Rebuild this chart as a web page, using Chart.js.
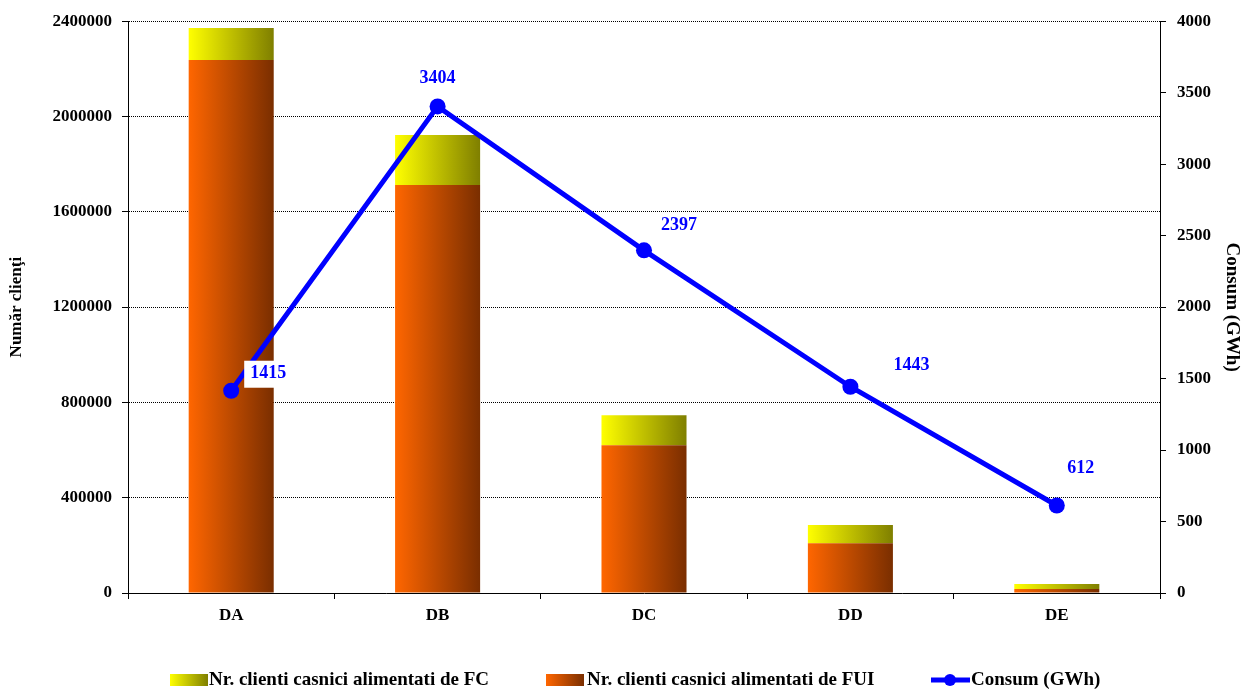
<!DOCTYPE html>
<html><head><meta charset="utf-8">
<script src="https://cdn.jsdelivr.net/npm/chart.js@4/dist/chart.umd.min.js"></script>
<style>html,body{margin:0;padding:0;background:#fff}#wrap{width:1243px;height:691px}</style>
</head><body><div id="wrap"><canvas id="c" width="1243" height="691"></canvas></div>
<script>
const categories = ['DA','DB','DC','DD','DE'];
const clientiFUI = [2237000, 1713000, 620000, 209000, 17000];
const clientiFC = [134000, 209000, 126000, 76000, 21000];
const consum = [1415, 3404, 2397, 1443, 612];
const leftTicks = [0, 400000, 800000, 1200000, 1600000, 2000000, 2400000];
const rightTicks = [0, 500, 1000, 1500, 2000, 2500, 3000, 3500, 4000];
const seriesNames = ['Nr. clienti casnici alimentati de FC', 'Nr. clienti casnici alimentati de FUI', 'Consum (GWh)'];

const labelOffsets = [[37,-17],[0,-28],[35,-25],[61,-21],[24,-37]];
const FONT = '"Liberation Serif", "Times New Roman", serif';
const BAR_PCT = 0.412;

function gradFor(c0, c1) {
  return (ctx) => {
    const chart = ctx.chart;
    const xs = chart.scales && chart.scales.x;
    if (!xs || ctx.type !== 'data') return c0;
    const cx = xs.getPixelForValue(ctx.dataIndex);
    const w = (xs.width / categories.length) * BAR_PCT;
    if (!isFinite(cx) || !isFinite(w) || w <= 0) return c0;
    const g = chart.ctx.createLinearGradient(cx - w/2, 0, cx + w/2, 0);
    g.addColorStop(0, c0); g.addColorStop(1, c1);
    return g;
  };
}

const extras = {
  id: 'extras',
  afterDatasetsDraw(chart) {
    const ctx = chart.ctx;
    const meta = chart.getDatasetMeta(2);
    ctx.save();
    ctx.font = 'bold 18px ' + FONT;
    ctx.textAlign = 'center';
    ctx.textBaseline = 'middle';
    meta.data.forEach((pt, i) => {
      const x = pt.x + labelOffsets[i][0], y = pt.y + labelOffsets[i][1];
      const txt = String(consum[i]);
      if (i === 0) {
        const w = ctx.measureText(txt).width + 12;
        ctx.fillStyle = '#fff';
        ctx.fillRect(x - w/2, y - 13, w, 27);
      }
      ctx.fillStyle = '#0000FF';
      ctx.fillText(txt, x, y);
    });
    ctx.restore();
  },
  afterDraw(chart) {
    const ctx = chart.ctx;
    ctx.save();
    const y = 680;
    ctx.font = 'bold 19px ' + FONT;
    ctx.textBaseline = 'middle';
    ctx.textAlign = 'left';
    let g = ctx.createLinearGradient(170, 0, 208, 0);
    g.addColorStop(0, '#FFFF00'); g.addColorStop(1, '#7F7F00');
    ctx.fillStyle = g; ctx.fillRect(170, y - 6, 38, 12);
    ctx.fillStyle = '#000'; ctx.fillText(seriesNames[0], 209, y);
    g = ctx.createLinearGradient(546, 0, 584, 0);
    g.addColorStop(0, '#FF6600'); g.addColorStop(1, '#7A2E00');
    ctx.fillStyle = g; ctx.fillRect(546, y - 6, 38, 12);
    ctx.fillStyle = '#000'; ctx.fillText(seriesNames[1], 587, y);
    ctx.strokeStyle = '#0000FF'; ctx.lineWidth = 5;
    ctx.beginPath(); ctx.moveTo(931, y); ctx.lineTo(970, y); ctx.stroke();
    ctx.fillStyle = '#0000FF';
    ctx.beginPath(); ctx.arc(950, y, 6, 0, Math.PI*2); ctx.fill();
    ctx.fillStyle = '#000'; ctx.fillText(seriesNames[2], 971, y);
    ctx.restore();
  }
};

const tickFont = { family: FONT, size: 17, weight: 'bold' };
const plain = (v) => String(v);

new Chart(document.getElementById('c'), {
  data: {
    labels: categories,
    datasets: [
      { type: 'bar', label: seriesNames[1], data: clientiFUI, yAxisID: 'y', order: 1,
        backgroundColor: gradFor('#FF6600', '#7A2E00'), barPercentage: BAR_PCT, categoryPercentage: 1 },
      { type: 'bar', label: seriesNames[0], data: clientiFC, yAxisID: 'y', order: 1,
        backgroundColor: gradFor('#FFFF00', '#7F7F00'), barPercentage: BAR_PCT, categoryPercentage: 1 },
      { type: 'line', label: seriesNames[2], data: consum, yAxisID: 'y1', order: 0,
        borderColor: '#0000FF', backgroundColor: '#0000FF', borderWidth: 5,
        pointRadius: 8, pointBackgroundColor: '#0000FF', pointBorderWidth: 0, tension: 0 }
    ]
  },
  options: {
    responsive: false, animation: false,
    layout: { padding: { left: 0, right: 0, top: 20, bottom: 58 } },
    plugins: { legend: { display: false }, tooltip: { enabled: false } },
    scales: {
      x: {
        stacked: true, offset: true,
        afterFit(s) { s.height = 40; },
        grid: { display: true, drawOnChartArea: false, offset: true, color: '#000', tickLength: 6 },
        border: { display: true, color: '#000', width: 1 },
        ticks: { color: '#000', font: tickFont, padding: 6 }
      },
      y: {
        position: 'left', stacked: true, min: 0, max: 2400000,
        afterBuildTicks(s) { s.ticks = leftTicks.map(v => ({ value: v })); },
        afterFit(s) { s.width = 128; },
        grid: { color: (c) => (c.tick && c.tick.value === 0) ? 'rgba(0,0,0,0)' : '#000', lineWidth: 1,
                tickLength: 6, tickColor: '#000', tickBorderDash: [] },
        border: { display: true, color: '#000', width: 1, dash: [1, 1] },
        ticks: { color: '#000', font: tickFont, padding: 10, callback: plain },
        title: { display: true, text: 'Număr clienţi', color: '#000', font: { family: FONT, size: 17, weight: 'bold' }, padding: { top: 6, bottom: 0 } }
      },
      y1: {
        position: 'right', min: 0, max: 4000,
        afterBuildTicks(s) { s.ticks = rightTicks.map(v => ({ value: v })); },
        afterFit(s) { s.width = 83; },
        grid: { drawOnChartArea: false, color: '#000', tickLength: 6 },
        border: { display: true, color: '#000', width: 1 },
        ticks: { color: '#000', font: tickFont, padding: 11, callback: plain },
        title: { display: true, text: 'Consum (GWh)', color: '#000', font: { family: FONT, size: 19, weight: 'bold' }, padding: { top: 0, bottom: 1 } }
      }
    }
  },
  plugins: [extras]
});
</script>
</body></html>
